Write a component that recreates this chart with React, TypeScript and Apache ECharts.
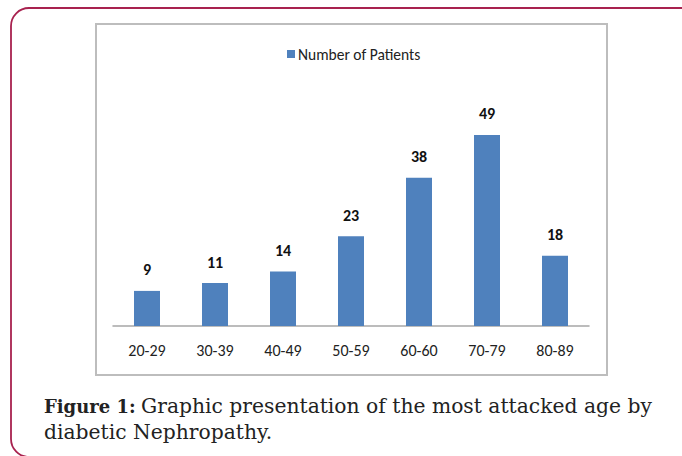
import React, { useEffect, useRef } from "react";
import * as echarts from "echarts";

const categories = ["20-29", "30-39", "40-49", "50-59", "60-60", "70-79", "80-89"];
const patients = [9, 11, 14, 23, 38, 49, 18];
const seriesName = "Number of Patients";
const captionBold = "Figure 1:";
const captionLine1 = "Graphic presentation of the most attacked age by";
const captionLine2 = "diabetic Nephropathy.";

const sans = 'Carlito, "Liberation Sans Narrow", Roboto, "Liberation Sans", sans-serif';
const serif = '"DejaVu Serif", "Liberation Serif", serif';

export default function App() {
  const ref = useRef<HTMLDivElement>(null);
  useEffect(() => {
    if (!ref.current) return;
    const chart = echarts.init(ref.current, null, { renderer: "svg" });
    chart.setOption({
      animation: false,
      backgroundColor: "#ffffff",
      legend: {
        data: [seriesName],
        left: 282,
        top: 41,
        icon: "rect",
        itemWidth: 8,
        itemHeight: 8,
        itemGap: 4,
        textStyle: { fontFamily: sans, fontSize: 15.5, color: "#222", padding: [0, 0, 0, -2] },
      },
      grid: { left: 113, right: 93, top: 92, bottom: 130 },
      xAxis: {
        type: "category",
        data: categories,
        axisLine: { lineStyle: { color: "#a6a6a6", width: 1.5 } },
        axisTick: { show: false },
        axisLabel: { fontFamily: sans, fontSize: 16, color: "#222", margin: 16 },
      },
      yAxis: {
        type: "value",
        min: 0,
        max: 60,
        show: false,
      },
      series: [
        {
          name: seriesName,
          type: "bar",
          data: patients,
          barWidth: 26,
          itemStyle: { color: "#4f81bd" },
          label: {
            show: true,
            position: "top",
            distance: 13,
            fontFamily: sans,
            fontSize: 16,
            fontWeight: "bold",
            color: "#111",
          },
        },
      ],
      graphic: [
        {
          type: "rect",
          shape: { x: 11, y: 8, width: 690, height: 449, r: 18 },
          style: { fill: "none", stroke: "#a8224f", lineWidth: 1.8 },
          silent: true,
        },
        {
          type: "rect",
          shape: { x: 96, y: 24, width: 511, height: 351 },
          style: { fill: "none", stroke: "#bdbdbd", lineWidth: 2 },
          silent: true,
        },
        {
          type: "text",
          x: 44,
          y: 397.5,
          style: {
            text: captionBold,
            font: `bold 18px ${serif}`,
            fill: "#222",
          },
        },
        {
          type: "text",
          x: 141,
          y: 396,
          style: {
            text: captionLine1,
            font: `20.3px ${serif}`,
            fill: "#222",
          },
        },
        {
          type: "text",
          x: 44,
          y: 422,
          style: {
            text: captionLine2,
            font: `20.3px ${serif}`,
            fill: "#222",
          },
        },
      ],
    });
    return () => chart.dispose();
  }, []);
  return (
    <div
      ref={ref}
      style={{ position: "fixed", left: 0, top: 0, width: 682, height: 456 }}
    />
  );
}
